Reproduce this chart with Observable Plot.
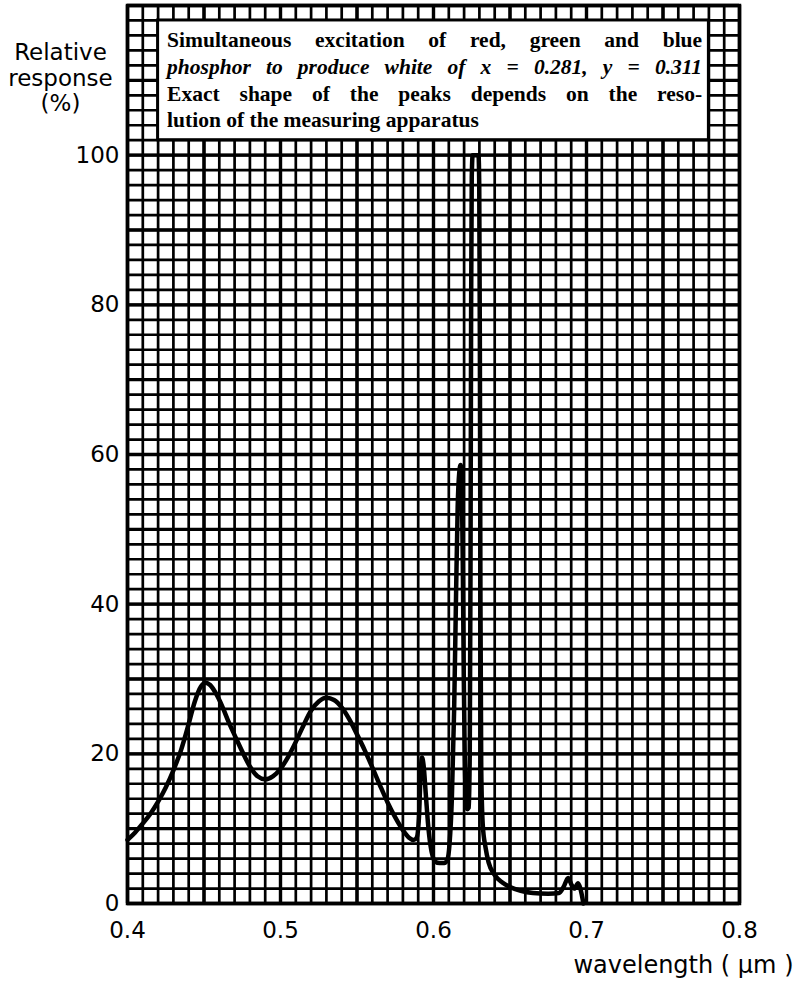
<!DOCTYPE html>
<html>
<head>
<meta charset="utf-8">
<script src="https://cdn.jsdelivr.net/npm/d3@7"></script>
<script src="https://cdn.jsdelivr.net/npm/@observablehq/plot@0.6"></script>
<style>
  html, body { margin: 0; padding: 0; background: #fff; }
  #chart { width: 795px; height: 984px; }
</style>
</head>
<body>
<div id="chart"></div>
<script>
// Wavelength (µm) and relative response (%)
const wavelength = [
  0.400, 0.405, 0.410, 0.415, 0.420, 0.425, 0.430, 0.435, 0.440, 0.444,
  0.448, 0.451, 0.454, 0.458, 0.462, 0.466, 0.470, 0.475, 0.480, 0.485,
  0.490, 0.495, 0.500, 0.505, 0.510, 0.515, 0.520, 0.525, 0.530, 0.535,
  0.540, 0.545, 0.550, 0.555, 0.560, 0.565, 0.570, 0.575, 0.580, 0.584,
  0.587, 0.589, 0.5905, 0.5915, 0.5925, 0.5935, 0.595, 0.5965, 0.598, 0.5995,
  0.601, 0.604, 0.607, 0.609, 0.6105, 0.612, 0.6135, 0.6148, 0.6158, 0.6168,
  0.6177, 0.6185, 0.6192, 0.6198, 0.6204, 0.6212, 0.622, 0.623, 0.6237, 0.6242,
  0.6246, 0.6250, 0.6256, 0.6294, 0.6299, 0.6303, 0.6307, 0.6312, 0.6322, 0.634,
  0.636, 0.640, 0.645, 0.650, 0.657, 0.665, 0.675, 0.682, 0.685, 0.688,
  0.690, 0.692, 0.6945, 0.696, 0.698
];
const response = [
  8.5, 9.5, 10.7, 12.0, 13.6, 15.5, 17.8, 20.5, 24.0, 27.0,
  29.0, 29.5, 29.2, 28.0, 26.3, 24.3, 22.5, 20.3, 18.3, 17.0,
  16.6, 17.0, 18.0, 19.6, 21.6, 23.8, 25.8, 27.0, 27.5, 27.2,
  26.2, 24.6, 22.6, 20.5, 18.2, 15.8, 13.5, 11.5, 9.8, 8.8,
  8.5, 8.8, 11.5, 17.0, 19.5, 18.5, 14.5, 10.5, 7.8, 6.3,
  5.6, 5.4, 5.4, 5.8, 8.0, 14.0, 26.0, 42.0, 53.0, 57.5,
  58.6, 56.0, 44.0, 30.0, 20.0, 14.0, 12.6, 12.8, 20.0, 45.0,
  80.0, 97.0, 100.0, 100.0, 96.0, 75.0, 40.0, 18.0, 10.5, 7.5,
  5.5, 3.8, 2.8, 2.2, 1.7, 1.4, 1.3, 1.4, 2.2, 3.4,
  2.6, 2.0, 2.7, 2.0, 0.0
];

// Axis ticks and labels
const xTicks = [0.4, 0.5, 0.6, 0.7, 0.8];
const yTicks = [0, 20, 40, 60, 80, 100];
const xDomain = [0.4, 0.8];
const yDomain = [0, 120];
const yLabel = "Relative\nresponse\n(%)";
const xLabel = "wavelength ( \u03bcm )";

// Annotation box (in data units) and its text lines
const boxX = [0.42, 0.78];
const boxY = [102, 118];
const noteLines = [
  "Simultaneous excitation of red, green and blue",
  "phosphor to produce white of x = 0.281, y = 0.311",
  "Exact shape of the peaks depends on the reso-",
  "lution of the measuring apparatus"
];
const noteY = [114.4, 110.8, 107.3, 103.7];
const noteItalic = [false, true, false, false];
const noteJustify = [true, true, true, false];

// Graph-paper grid
const xMinor = d3.range(0, 41).map(i => 0.4 + i * 0.01);
const xMajor = d3.range(0, 9).map(i => 0.4 + i * 0.05);
const yMinor = d3.range(0, 61).map(i => i * 2);
const yMajor = d3.range(0, 13).map(i => i * 10);

const curve = wavelength.map((x, i) => ({x, y: response[i]}));
const box = [{x1: boxX[0], x2: boxX[1], y1: boxY[0], y2: boxY[1]}];
const notes = noteLines.map((t, i) => ({t, x: boxX[0], y: noteY[i], italic: noteItalic[i]}));

const sans = "DejaVu Sans, sans-serif";
const serif = "Liberation Serif, Times New Roman, serif";

const plot = Plot.plot({
  width: 795,
  height: 984,
  marginLeft: 127,
  marginRight: 56,
  marginTop: 5,
  marginBottom: 81,
  style: {background: "#fff", color: "#000", fontFamily: sans},
  x: {domain: xDomain},
  y: {domain: yDomain},
  marks: [
    Plot.ruleX(xMinor, {stroke: "#000", strokeWidth: 2.7}),
    Plot.ruleY(yMinor, {stroke: "#000", strokeWidth: 2.7}),
    Plot.ruleX(xMajor, {stroke: "#000", strokeWidth: 3.4}),
    Plot.ruleY(yMajor, {stroke: "#000", strokeWidth: 3.4}),
    Plot.frame({stroke: "#000", strokeWidth: 3.5}),
    Plot.rect(box, {x1: "x1", x2: "x2", y1: "y1", y2: "y2", fill: "#fff", stroke: "#000", strokeWidth: 3}),
    Plot.text(notes.filter(d => !d.italic), {
      x: "x", y: "y", text: "t", dx: 9, textAnchor: "start", lineAnchor: "bottom",
      fontFamily: serif, fontWeight: "bold", fontSize: 21.5, fill: "#000"
    }),
    Plot.text(notes.filter(d => d.italic), {
      x: "x", y: "y", text: "t", dx: 9, textAnchor: "start", lineAnchor: "bottom",
      fontFamily: serif, fontWeight: "bold", fontStyle: "italic", fontSize: 21.5, fill: "#000"
    }),
    Plot.line(curve, {x: "x", y: "y", stroke: "#000", strokeWidth: 4.5, curve: "monotone-x", strokeLinejoin: "round"}),
    Plot.axisX({ticks: xTicks, tickFormat: d3.format(".1f"), tickSize: 0, tickPadding: 18, label: null, fontSize: 23, fontFamily: sans, fill: "#000"}),
    Plot.axisY({ticks: yTicks, tickSize: 0, tickPadding: 8, label: null, fontSize: 23, fontFamily: sans, fill: "#000"}),
    Plot.text([yLabel], {frameAnchor: "top-left", dx: -67, dy: 37, textAnchor: "middle", lineAnchor: "top", lineHeight: 1.1, fontSize: 23, fontFamily: sans, fill: "#000"}),
    Plot.text([xLabel], {frameAnchor: "bottom-right", dx: 54, dy: 69, textAnchor: "end", lineAnchor: "bottom", fontSize: 24, fontFamily: sans, fill: "#000"})
  ]
});

document.getElementById("chart").appendChild(plot);

// Justify the annotation lines to the width of the box (word spacing only)
const targetWidth = 535;
plot.querySelectorAll("text").forEach(el => {
  const idx = noteLines.indexOf(el.textContent);
  if (idx >= 0 && noteJustify[idx]) {
    const w = el.getComputedTextLength();
    const gaps = noteLines[idx].split(" ").length - 1;
    if (gaps > 0 && w < targetWidth) {
      el.setAttribute("word-spacing", ((targetWidth - w) / gaps).toFixed(2));
    }
  }
});
</script>
</body>
</html>
